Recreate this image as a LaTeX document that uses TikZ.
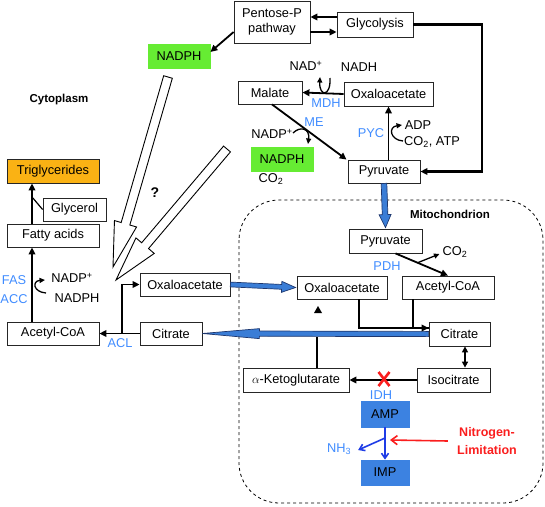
\documentclass[tikz,border=0pt]{standalone}
\usepackage{fontspec}
\setmainfont{Liberation Sans}
\usetikzlibrary{arrows.meta,calc,shadows}
\definecolor{lblue}{RGB}{64,140,255}
\definecolor{fblue}{RGB}{58,125,214}
\definecolor{dblue}{RGB}{30,55,110}
\definecolor{bbox}{RGB}{60,130,225}
\definecolor{nblue}{RGB}{30,60,230}
\definecolor{lgreen}{RGB}{102,236,51}
\definecolor{orng}{RGB}{250,178,20}
\definecolor{rred}{RGB}{250,30,30}
\newcommand\fatarrow[6]{%
  \coordinate (fb) at ($(#3)!#6!(#2)$);
  \draw[#1] ($(#2)!#4!90:(#3)$) -- ($(fb)!#4!90:(#3)$) -- ($(fb)!#5!90:(#3)$)
    -- (#3) -- ($(fb)!#5!-90:(#3)$) -- ($(fb)!#4!-90:(#3)$) -- ($(#2)!#4!-90:(#3)$) -- cycle;}
\begin{document}
\begin{tikzpicture}[x=1pt,y=-1pt,
  font=\fontsize{12.8}{15.5}\selectfont,
  box/.style={draw=black!85, line width=0.8pt, fill=white, inner sep=0pt,
    drop shadow={shadow xshift=1.2pt,shadow yshift=-1.2pt,opacity=0.3}},
  arr/.style={line width=1.8pt, -{Triangle[length=7pt,width=6.5pt]}},
  arrs/.style={line width=1.3pt, -{Triangle[length=5.5pt,width=5pt]}},
  dbl/.style={line width=1.8pt, {Triangle[length=6pt,width=6pt]}-{Triangle[length=6pt,width=6pt]}},
  ln/.style={line width=1.8pt},
  bl/.style={text=lblue},
  lab/.style={inner sep=1pt},
  hollow/.style={draw=black, line width=0.9pt, fill=white, line join=miter},
  bluefat/.style={draw=dblue, line width=0.7pt, fill=fblue, line join=miter}]
\useasboundingbox (0,0) rectangle (545,506);

% mitochondrion
\draw[dashed, line width=0.8pt, rounded corners=40pt] (239,200) rectangle (543,503);
\node[font=\fontsize{11.5}{13}\selectfont\bfseries] (mito) at (450,214) {Mitochondrion};
\node[font=\fontsize{11.5}{13}\selectfont\bfseries] (cyto) at (59,100) {Cytoplasm};

% boxes
\node[box, minimum width=76pt, minimum height=42pt, align=center] (pent) at (272,22) {Pentose-P\\pathway};
\node[box, minimum width=76pt, minimum height=25pt] (glyc) at (375,24.5) {Glycolysis};
\node[box, fill=lgreen, draw=lgreen, minimum width=62pt, minimum height=24pt] (nadph1) at (179,56) {NADPH};
\node[box, minimum width=64pt, minimum height=23pt] (malate) at (270,92.5) {Malate};
\node[box, minimum width=89pt, minimum height=24pt] (oaa1) at (388.5,94) {Oxaloacetate};
\node[box, fill=lgreen, draw=lgreen, minimum width=62pt, minimum height=24pt] (nadph2) at (282,159) {NADPH};
\node[box, minimum width=72pt, minimum height=23pt] (pyr1) at (384,171.5) {Pyruvate};
\node[box, fill=orng, minimum width=92pt, minimum height=24pt] (trig) at (53,171) {Triglycerides};
\node[box, minimum width=63pt, minimum height=23pt] (glycerol) at (74.5,209.5) {Glycerol};
\node[box, minimum width=92pt, minimum height=23pt] (fatty) at (53,235.5) {Fatty acids};
\node[box, minimum width=92pt, minimum height=23pt] (acoa1) at (53,333.5) {Acetyl-CoA};
\node[box, minimum width=62pt, minimum height=23pt] (cit1) at (171,333.5) {Citrate};
\node[box, minimum width=90pt, minimum height=23pt] (oaa2) at (185,284.5) {Oxaloacetate};
\node[box, minimum width=73pt, minimum height=24pt] (pyr2) at (385.5,241) {Pyruvate};
\node[box, minimum width=90pt, minimum height=23pt] (oaa3) at (342,287.5) {Oxaloacetate};
\node[box, minimum width=92pt, minimum height=23pt] (acoa2) at (448,287.5) {Acetyl-CoA};
\node[box, minimum width=61pt, minimum height=24pt] (cit2) at (459.5,334) {Citrate};
\node[box, minimum width=106pt, minimum height=24pt] (akg) at (296,380) {$\alpha$-Ketoglutarate};
\node[box, minimum width=73pt, minimum height=24pt] (isocit) at (453.5,380) {Isocitrate};
\node[box, fill=bbox, draw=bbox, minimum width=48pt, minimum height=26pt] (amp) at (385,414) {AMP};
\node[box, fill=bbox, draw=bbox, minimum width=48pt, minimum height=25pt] (imp) at (385,472.5) {IMP};

% text labels
\node[lab] (nad) at (306,66) {NAD\textsuperscript{+}};
\node[lab] (nadh) at (359,67) {NADH};
\node[lab,bl] (mdh) at (326,103) {MDH};
\node[lab,bl] (me) at (314,122) {ME};
\node[lab] (nadp2) at (272,134) {NADP\textsuperscript{+}};
\node[lab] (co2a) at (271,179) {CO\textsubscript{2}};
\node[lab,bl] (pyc) at (371,133) {PYC};
\node[lab] (adp) at (418,125) {ADP};
\node[lab] (co2atp) at (432,142) {CO\textsubscript{2}, ATP};
\node[lab, font=\fontsize{14}{16}\selectfont\bfseries] (q) at (155,193) {?};
\node[lab,bl] (fas) at (14,280) {FAS};
\node[lab,bl] (acc) at (14,299) {ACC};
\node[lab] (nadp1) at (72,278) {NADP\textsuperscript{+}};
\node[lab] (nadph3) at (77,298) {NADPH};
\node[lab,bl] (acl) at (120,343) {ACL};
\node[lab] (co2m) at (455,252) {CO\textsubscript{2}};
\node[lab,bl] (pdh) at (387,266) {PDH};
\node[lab,bl] (idh) at (381,395) {IDH};
\node[lab, text=lblue] (nh3) at (339,449) {NH\textsubscript{3}};
\node[lab, text=rred, font=\fontsize{12.5}{18}\selectfont\bfseries, align=center] (nitro) at (487,441) {Nitrogen-\\Limitation};

% small triangle
\fill (314,313) -- (322,313) -- (318,306) -- cycle;

% top connectors
\coordinate (g1) at ($(glyc.west)+(0,-7.5)$);
\draw[arr] (g1) -- (pent.east |- g1);
\coordinate (p1) at ($(pent.east)+(0,10)$);
\draw[arr] (p1) -- (glyc.west |- p1);
\coordinate (gr) at (482,24.5);
\draw[arr, line width=2.2pt] (glyc.east) -- (gr) |- (pyr1.east);
\draw[arr] ($(pent.west)+(0,10)$) -- ($(nadph1.east)+(0,-4)$);
\draw[arr] (oaa1.west) -- (malate.east);
\coordinate (mdh1) at (330,78);
\coordinate (mdh2) at (320,77);
\draw[arrs] (mdh1) .. controls (331,97) and (319,97) .. (mdh2);
\draw[arr] ([xshift=2pt]malate.south) -- ([xshift=-1pt]pyr1.north west);
\coordinate (me1) at (293,133);
\coordinate (me2) at (308,144);
\draw[arrs] (me1) .. controls (300,126) and (310,128) .. (me2);
\draw[arr] (oaa1.south |- pyr1.north) -- (oaa1.south);
\coordinate (pyc1) at (403,141);
\coordinate (pyc2) at (402,125);
\draw[arrs] (pyc1) .. controls (390,140) and (388,127) .. (pyc2);

% cytoplasm left
\coordinate (vx) at (32,0);
\draw[arr] (fatty.north -| vx) -- (trig.south -| vx);
\coordinate (gj) at (32,197);
\draw[line width=1.2pt] (gj) -- (glycerol.west);
\draw[arr] (acoa1.north -| vx) -- (fatty.south -| vx);
\coordinate (fa1) at (46,293);
\coordinate (fa2) at (45,280);
\draw[arrs] (fa1) .. controls (33,292) and (32,281) .. (fa2);
\draw[arr] (cit1.west) -- (acoa1.east);
\coordinate (jx) at (122,333.5);
\draw[arr] (jx) |- (oaa2.west);

% hollow arrows
\coordinate (h1s) at (168,77);
\coordinate (h1t) at (113,267);
\fatarrow{hollow}{h1s}{h1t}{4.5pt}{11.5pt}{45pt}
\coordinate (h2s) at (227,149);
\coordinate (h2t) at (116,280);
\fatarrow{hollow}{h2s}{h2t}{4.5pt}{12pt}{45pt}

% blue transport arrows
\coordinate (b1s) at (pyr1.south);
\coordinate (b1t) at ($(pyr2.north)+(0,-1)$);
\fatarrow{bluefat}{b1s}{b1t}{2.8pt}{6pt}{13pt}
\coordinate (b2s) at (oaa2.east);
\coordinate (b2t) at ($(oaa3.west)+(-1,0)$);
\fatarrow{bluefat}{b2s}{b2t}{2.4pt}{5.5pt}{14pt}
\coordinate (b3s) at (cit2.west);
\coordinate (b3t) at (cit1.east);
\fatarrow{bluefat}{b3s}{b3t}{2.6pt}{5pt}{57pt}

% mitochondrion connectors
\coordinate (pd1) at ([xshift=10pt]pyr2.south);
\draw[arr] (pd1) -- (acoa2.north);
\draw[arrs] ($(pd1)!0.42!(acoa2.north)$) -- ($(co2m.west)+(-2,2)$);
\coordinate (c2in) at ($(cit2.west)+(0,-6)$);
\draw[arr] ($(oaa3.south)+(17,0)$) |- (c2in);
\draw[ln] ($(acoa2.south)+(-35,0)$) |- (c2in);
\coordinate (vx2) at (465,0);
\draw[dbl] (cit2.south -| vx2) -- (isocit.north -| vx2);
\draw[arr] (isocit.west) -- (akg.east);
\coordinate (akgtop) at (317,337);
\draw[line width=1.2pt] ($(akg.north)+(21,0)$) -- (akgtop);
\coordinate (xm) at (384,379);
\draw[rred, line width=2.6pt] ($(xm)+(-5.5,-7)$) -- ($(xm)+(5.5,7)$) ($(xm)+(5.5,-7)$) -- ($(xm)+(-5.5,7)$);

% AMP -> IMP
\draw[nblue, line width=1.6pt, -{Straight Barb[length=5pt,width=7pt]}] (amp.south) -- (imp.north);
\coordinate (br) at ($(amp.south)!0.33!(imp.north)$);
\draw[nblue, line width=1.6pt, -{Straight Barb[length=5pt,width=7pt]}] (br) -- ($(nh3.east)+(6,1)$);
\coordinate (redtip) at (390,440);
\draw[rred, line width=1.6pt, -{Straight Barb[length=6pt,width=9pt]}] ($(nitro.west)+(-8,0)$) -- (redtip);
\end{tikzpicture}
\end{document}
